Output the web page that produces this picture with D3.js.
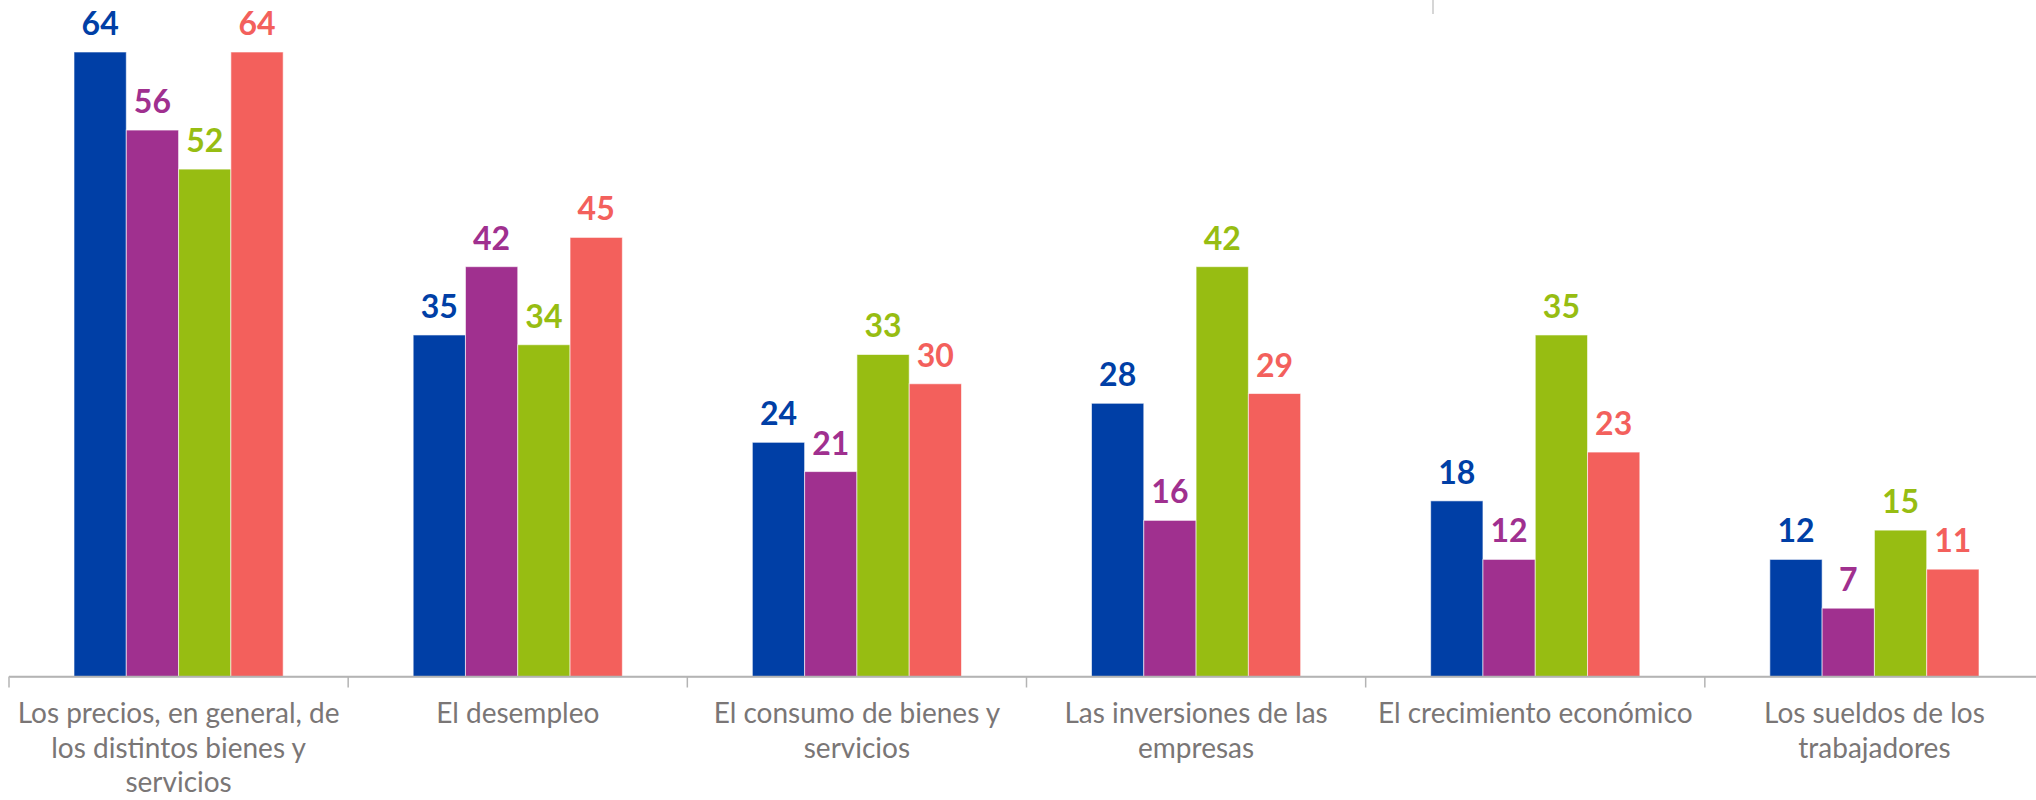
<!DOCTYPE html>
<html>
<head>
<meta charset="utf-8">
<script src="https://cdn.jsdelivr.net/npm/d3@7"></script>
<style>
  html, body { margin: 0; padding: 0; background: #ffffff; }
  svg { display: block; }
</style>
</head>
<body>
<svg id="chart" width="2036" height="800"></svg>
<script>
// ---- data ----
const categories = [
  "Los precios, en general, de|los distintos bienes y|servicios",
  "El desempleo",
  "El consumo de bienes y|servicios",
  "Las inversiones de las|empresas",
  "El crecimiento económico",
  "Los sueldos de los|trabajadores"
];
const seriesNames = ["S1", "S2", "S3", "S4"];
const series1 = [64, 35, 24, 28, 18, 12];
const series2 = [56, 42, 21, 16, 12, 7];
const series3 = [52, 34, 33, 42, 35, 15];
const series4 = [64, 45, 30, 29, 23, 11];
const seriesColors = ["#003FA6", "#A0308F", "#97BD12", "#F3605C"];

const allSeries = [series1, series2, series3, series4];

// ---- layout ----
const svg = d3.select("#chart");
const axisY = 676.5;
const x0 = d3.scaleBand().domain(d3.range(categories.length)).range([9, 2044]).paddingInner(0).paddingOuter(0);
const x1 = d3.scaleBand().domain(d3.range(seriesNames.length)).range([0, x0.bandwidth()]).paddingInner(0).paddingOuter(1.243);
const y = d3.scaleLinear().domain([0, 64]).range([axisY, 52]);

// bars
const groups = svg.append("g").selectAll("g")
  .data(categories.map((c, i) => ({ i, vals: allSeries.map(s => s[i]) })))
  .join("g")
  .attr("transform", d => `translate(${x0(d.i)},0)`);

groups.selectAll("rect")
  .data(d => d.vals.map((v, k) => ({ v, k })))
  .join("rect")
  .attr("x", d => x1(d.k))
  .attr("width", x1.bandwidth())
  .attr("y", d => y(d.v))
  .attr("height", d => axisY - y(d.v))
  .attr("fill", d => seriesColors[d.k])
  .attr("stroke", "rgba(255,255,255,0.6)")
  .attr("stroke-width", 1);

groups.selectAll("text.val")
  .data(d => d.vals.map((v, k) => ({ v, k })))
  .join("text")
  .attr("class", "val")
  .attr("x", d => x1(d.k) + x1.bandwidth() / 2)
  .attr("y", d => y(d.v) - 17)
  .attr("text-anchor", "middle")
  .attr("font-family", "Lato, 'Open Sans', sans-serif")
  .attr("font-weight", "bold")
  .attr("font-size", 32)
  .attr("fill", d => seriesColors[d.k])
  .text(d => d.v);

// axis
const axis = d3.axisBottom(x0).tickSize(0).tickFormat(() => "");
const axG = svg.append("g").attr("transform", `translate(0,${axisY})`).call(axis);
axG.select(".domain").attr("stroke", "#B4B4B4").attr("stroke-width", 1.5);

// category boundary ticks
const boundaries = d3.range(categories.length + 1).map(i => 9 + i * x0.step());
svg.append("g").selectAll("line")
  .data(boundaries)
  .join("line")
  .attr("x1", d => d).attr("x2", d => d)
  .attr("y1", axisY).attr("y2", axisY + 11)
  .attr("stroke", "#B4B4B4").attr("stroke-width", 1.5);

svg.append("line")
  .attr("x1", 9).attr("x2", 2036).attr("y1", axisY).attr("y2", axisY)
  .attr("stroke", "#B4B4B4").attr("stroke-width", 1.5);

// category labels
const lab = svg.append("g").selectAll("text")
  .data(categories.map((c, i) => ({ i, lines: c.split("|") })))
  .join("text")
  .attr("text-anchor", "middle")
  .attr("font-family", "Lato, 'Open Sans', sans-serif")
  .attr("font-size", 28)
  .attr("fill", "#7A7676")
  .attr("x", d => x0(d.i) + x0.bandwidth() / 2)
  .attr("y", 723);
lab.selectAll("tspan")
  .data(d => d.lines.map(l => ({ l, x: x0(d.i) + x0.bandwidth() / 2 })))
  .join("tspan")
  .attr("x", d => d.x)
  .attr("dy", (d, j) => j === 0 ? 0 : 34.5)
  .text(d => d.l);

// small gray mark at top edge
svg.append("line")
  .attr("x1", 1433).attr("x2", 1433).attr("y1", 0).attr("y2", 14)
  .attr("stroke", "#C8C8C8").attr("stroke-width", 1.5);
</script>
</body>
</html>
